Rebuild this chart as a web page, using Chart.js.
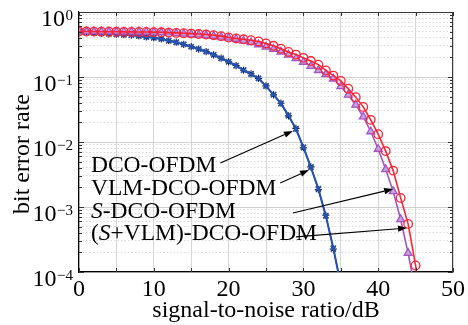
<!DOCTYPE html>
<html><head><meta charset="utf-8">
<script src="https://cdn.jsdelivr.net/npm/chart.js@4.4.1/dist/chart.umd.min.js"></script>
<style>html,body{margin:0;padding:0;background:#fff}#wrap{width:468px;height:325px}</style>
</head><body><div id="wrap"><canvas id="c" width="468" height="325"></canvas></div>
<script>
const snr = [0,1,2,3,4,5,6,7,8,9,10,11,12,13,14,15,16,17,18,19,20,21,22,23,24,25,26,27,28,29,30,31,32,33,34,35,36,37,38,39,40,41,42,43,44,45,46];
const berDCO = [0.498,0.488,0.481,0.470,0.463,0.454,0.448,0.439,0.428,0.412,0.403,0.385,0.362,0.342,0.318,0.292,0.270,0.245,0.220,0.194,0.172,0.149,0.128,0.111,0.0955,0.0724,0.0537,0.0389,0.0257,0.0158,0.00832,0.00407,0.00191,0.000724,0.000234,0.0000631];
const berVLM = [0.497,0.489,0.480,0.471,0.462,0.455,0.447,0.440,0.427,0.413,0.402,0.386,0.361,0.343,0.317,0.293,0.269,0.246,0.219,0.195,0.171,0.150,0.127,0.112,0.0950,0.0730,0.0530,0.0395,0.0252,0.0162,0.00815,0.00415,0.00186,0.000745,0.000226,0.0000660];
const berS = [0.500,0.500,0.499,0.499,0.498,0.498,0.497,0.497,0.497,0.496,0.495,0.487,0.480,0.470,0.463,0.454,0.447,0.438,0.427,0.413,0.402,0.384,0.360,0.340,0.316,0.290,0.268,0.244,0.219,0.193,0.170,0.147,0.127,0.110,0.094,0.0715,0.0530,0.0372,0.0245,0.0145,0.0078,0.0038,0.00174,0.000646,0.000195,0.000050];
const berSVLM = [0.500,0.500,0.499,0.498,0.497,0.496,0.495,0.494,0.493,0.492,0.490,0.487,0.482,0.477,0.471,0.465,0.458,0.450,0.440,0.425,0.405,0.392,0.380,0.368,0.352,0.328,0.302,0.272,0.243,0.221,0.197,0.176,0.155,0.126,0.105,0.0871,0.0661,0.0490,0.0347,0.0219,0.0132,0.00724,0.00363,0.00138,0.000550,0.000126,0.0000200];
const xGridValues = [0,5,10,15,20,25,30,35,40,45,50];
const xTickLabels = ['0','10','20','30','40','50'];
const yTickValues = [1,0.1,0.01,0.001,0.0001];
const yTickExponents = ['0','\u22121','\u22122','\u22123','\u22124'];
const seriesNames = ['DCO-OFDM','VLM-DCO-OFDM','S-DCO-OFDM','(S+VLM)-DCO-OFDM'];
// annotation label anchors (dB, BER) and arrows [dB, BER] in data units
const labelAnchorX = [1.6,1.6,1.6,1.6];
const labelAnchorY = [0.00347,0.00153,0.000676,0.000309];
const arrowFrom = [[18.9,0.00475],[26.9,0.00234],[28.6,0.000808],[29.0,0.000347]];
const arrowTo = [[28.6,0.0148],[30.75,0.00372],[42.0,0.00189],[43.85,0.000476]];

const SERIF = "'Liberation Serif','Times New Roman',serif";
const minorVals = [];
[1e-4,1e-3,1e-2,1e-1].forEach(d=>{for(let k=2;k<=9;k++) minorVals.push(d*k);});

function pts(arr){ return arr.map((v,i)=>({x:snr[i], y:v})); }

const annot = {
  id:'annot',
  afterDraw(chart){
    const {ctx, chartArea:a} = chart;
    const x = chart.scales.x, y = chart.scales.y;
    ctx.save();
    // top and right frame
    ctx.strokeStyle='#3a3a3a'; ctx.lineWidth=1;
    ctx.beginPath(); ctx.moveTo(a.left,a.top+0.5); ctx.lineTo(a.right-0.5,a.top+0.5); ctx.lineTo(a.right-0.5,a.bottom); ctx.stroke();
    // inward ticks
    ctx.strokeStyle='#333';
    ctx.beginPath();
    xGridValues.forEach(v=>{
      const px=Math.round(x.getPixelForValue(v))+0.5;
      ctx.moveTo(px,a.bottom); ctx.lineTo(px,a.bottom-4);
      ctx.moveTo(px,a.top); ctx.lineTo(px,a.top+4);
    });
    yTickValues.forEach(v=>{
      const py=Math.round(y.getPixelForValue(v))+0.5;
      ctx.moveTo(a.left,py); ctx.lineTo(a.left+5,py);
      ctx.moveTo(a.right,py); ctx.lineTo(a.right-5,py);
    });
    minorVals.forEach(v=>{
      const py=Math.round(y.getPixelForValue(v))+0.5;
      ctx.moveTo(a.left,py); ctx.lineTo(a.left+3,py);
      ctx.moveTo(a.right,py); ctx.lineTo(a.right-3,py);
    });
    ctx.stroke();
    // y tick labels with superscripts
    ctx.fillStyle='#000'; ctx.textBaseline='alphabetic'; ctx.textAlign='left';
    yTickValues.forEach((v,i)=>{
      const py = y.getPixelForValue(v);
      ctx.font = '15px '+SERIF;
      const ew = ctx.measureText(yTickExponents[i]).width;
      ctx.font = '24px '+SERIF;
      const bw = ctx.measureText('10').width;
      const right = 73;
      ctx.fillText('10', right-ew-bw-0.5, py+14);
      ctx.font = '15px '+SERIF;
      ctx.fillText(yTickExponents[i], right-ew, py+8);
    });
    // labels
    const segsList = [
      [['DCO-OFDM',false]],
      [['VLM-DCO-OFDM',false]],
      [['S',true],['-DCO-OFDM',false]],
      [['(',false],['S',true],['+VLM)-DCO-OFDM',false]]
    ];
    segsList.forEach((segs,i)=>{
      let px = x.getPixelForValue(labelAnchorX[i]);
      const py = y.getPixelForValue(labelAnchorY[i]);
      segs.forEach(([t,it])=>{
        ctx.font = (it?'italic ':'')+'23.5px '+SERIF;
        ctx.fillText(t, px, py);
        px += ctx.measureText(t).width;
      });
    });
    // arrows
    ctx.strokeStyle='#000'; ctx.fillStyle='#000'; ctx.lineWidth=1.1;
    arrowFrom.forEach((f,i)=>{
      const x0=x.getPixelForValue(f[0]), y0=y.getPixelForValue(f[1]);
      const x1=x.getPixelForValue(arrowTo[i][0]), y1=y.getPixelForValue(arrowTo[i][1]);
      const ang=Math.atan2(y1-y0,x1-x0), L=9, W=3.2;
      const bx=x1-L*Math.cos(ang), by=y1-L*Math.sin(ang);
      ctx.beginPath(); ctx.moveTo(x0,y0); ctx.lineTo(bx,by); ctx.stroke();
      ctx.beginPath(); ctx.moveTo(x1,y1);
      ctx.lineTo(bx+W*Math.sin(ang), by-W*Math.cos(ang));
      ctx.lineTo(bx-W*Math.sin(ang), by+W*Math.cos(ang));
      ctx.closePath(); ctx.fill();
    });
    ctx.restore();
  }
};

new Chart(document.getElementById('c'), {
  type:'line',
  data:{datasets:[
    {label:seriesNames[3], data:pts(berSVLM), borderColor:'#ff2235', backgroundColor:'rgba(255,255,255,0)', pointStyle:'circle', pointRadius:4.3, pointBorderWidth:1.3, borderWidth:1.6, tension:0},
    {label:seriesNames[2], data:pts(berS), borderColor:'#a455c4', backgroundColor:'#c8a2de', pointStyle:'triangle', pointRadius:4.5, pointBorderWidth:1.3, borderWidth:1.6, tension:0},
    {label:seriesNames[0], data:pts(berDCO), borderColor:'#2553b5', backgroundColor:'#2553b5', pointStyle:'crossRot', pointRadius:3.6, pointBorderWidth:1.6, borderWidth:2, tension:0},
    {label:seriesNames[1], data:pts(berVLM), borderColor:'#151a33', backgroundColor:'#151a33', pointStyle:'star', pointRadius:3.6, pointBorderWidth:1.1, borderWidth:1.3, tension:0}
  ]},
  options:{
    responsive:false, animation:false, devicePixelRatio:1,
    layout:{padding:{top:12,right:15,left:0,bottom:0}},
    plugins:{legend:{display:false}, tooltip:{enabled:false}},
    scales:{
      x:{type:'linear', min:0, max:50,
        afterBuildTicks: s=>{ s.ticks = xGridValues.map(v=>({value:v})); },
        ticks:{autoSkip:false, maxRotation:0, padding:3, color:'#000', font:{family:SERIF,size:24},
          callback:(v)=> xTickLabels.includes(String(v)) ? String(v) : ''},
        grid:{color:'#d6d6d6', lineWidth:1, drawTicks:false},
        border:{color:'#000', width:1.2},
        title:{display:true, text:'signal-to-noise ratio/dB', color:'#000', font:{family:SERIF,size:24}, padding:{top:0,bottom:0}},
        afterFit: s=>{ s.height = 53; }
      },
      y:{type:'logarithmic', min:1e-4, max:1, position:'left',
        afterBuildTicks: s=>{ s.ticks = yTickValues.map(v=>({value:v})); },
        ticks:{display:false},
        grid:{color:'#d0d0d0', lineWidth:1, drawTicks:false},
        border:{color:'#000', width:1.2},
        title:{display:true, text:'bit error rate\u00a0\u00a0\u00a0\u00a0', color:'#000', font:{family:SERIF,size:24}, padding:{top:8,bottom:0}},
        afterFit: s=>{ s.width = 79; }
      },
      yMinor:{type:'logarithmic', min:1e-4, max:1, position:'left',
        afterBuildTicks: s=>{ s.ticks = minorVals.map(v=>({value:v})); },
        ticks:{display:false},
        grid:{color:'#dadada', lineWidth:1, drawTicks:false},
        border:{display:false, dash:[1.5,2]},
        afterFit: s=>{ s.width = 0; }
      }
    }
  },
  plugins:[annot]
});
</script></body></html>
